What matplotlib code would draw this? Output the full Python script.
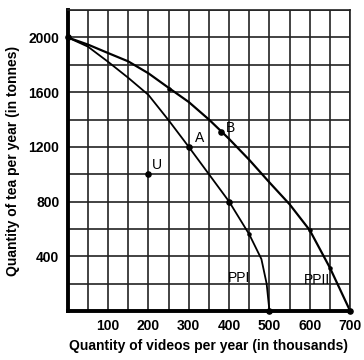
#
# Production possibility frontiers PPI and PPII (videos vs tea)
#

import matplotlib
matplotlib.use("Agg")
import matplotlib.pyplot as plt

plt.rcParams["font.family"] = ["Liberation Sans", "DejaVu Sans"]

# values
ppi_videos = [0, 50, 100, 150, 200, 250, 300, 350, 400, 450, 480, 493, 500]
ppi_tea = [2000, 1933, 1822, 1705, 1580, 1395, 1200, 1000, 800, 560, 380, 200, 0]

ppii_videos = [0, 50, 100, 150, 200, 250, 300, 350, 380, 400, 450, 500, 550, 600, 650, 700]
ppii_tea = [2000, 1948, 1886, 1825, 1738, 1632, 1528, 1400, 1315, 1258, 1105, 940, 780, 590, 315, 0]

big_dots_x = [0, 300, 380, 400, 200, 500, 700]
big_dots_y = [2000, 1200, 1310, 800, 1000, 0, 0]
small_dots_x = [450, 600, 650, 250]
small_dots_y = [560, 590, 315, 1625]

point_names = ["A", "B", "U"]
point_x = [300, 380, 200]
point_y = [1200, 1310, 1000]

x_ticks = [100, 200, 300, 400, 500, 600, 700]
y_ticks = [400, 800, 1200, 1600, 2000]

fig = plt.figure(figsize=(3.64, 3.60), dpi=100)
ax = fig.add_axes([0.186, 0.136, 0.776, 0.836])

ax.set_xlim(0, 700)
ax.set_ylim(0, 2200)

# grid every 50 thousand videos and every 200 tonnes of tea
ax.set_xticks(range(0, 701, 50), minor=True)
ax.set_yticks(range(0, 2201, 200), minor=True)
ax.set_xticks(x_ticks)
ax.set_yticks(y_ticks)
ax.grid(which="both", color="#222222", linewidth=1.2)
ax.set_axisbelow(True)

ax.set_xticklabels([str(v) for v in x_ticks], fontsize=10, fontweight="bold")
ax.set_yticklabels([str(v) for v in y_ticks], fontsize=10, fontweight="bold")
ax.tick_params(which="both", length=0, pad=6)

for side in ["left", "bottom"]:
    ax.spines[side].set_linewidth(2.8)
for side in ["top", "right"]:
    ax.spines[side].set_linewidth(1.2)
    ax.spines[side].set_color("#222222")

ax.plot(ppi_videos, ppi_tea, color="black", linewidth=1.3, clip_on=False)
ax.plot(ppii_videos, ppii_tea, color="black", linewidth=1.6, clip_on=False)
ax.scatter(big_dots_x, big_dots_y, s=14, color="black", zorder=5, clip_on=False)
ax.scatter(small_dots_x, small_dots_y, s=5, color="black", zorder=5)

# label offsets from each point (data units)
offsets = {"A": (15, 62), "B": (12, 25), "U": (9, 65)}
for name, x, y in zip(point_names, point_x, point_y):
    dx, dy = offsets[name]
    ax.text(x + dx, y + dy, name, fontsize=10, ha="left", va="center")

ax.text(425, 240, "PPI", fontsize=10, ha="center", va="center")
ax.text(617, 230, "PPII", fontsize=10, ha="center", va="center")

ax.set_xlabel("Quantity of videos per year (in thousands)", fontsize=10,
              fontweight="bold", labelpad=4)
ax.set_ylabel("Quantity of tea per year (in tonnes)", fontsize=10,
              fontweight="bold", labelpad=6)

fig.savefig("out.png", dpi=100)
